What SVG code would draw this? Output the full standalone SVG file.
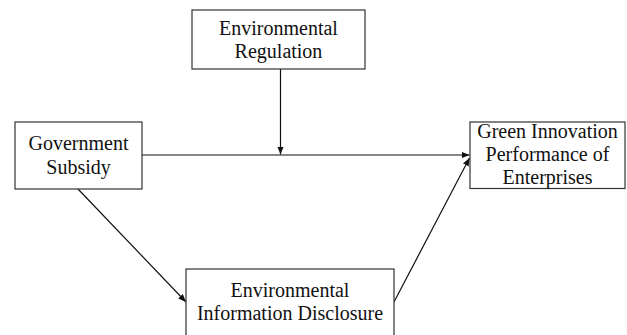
<svg xmlns="http://www.w3.org/2000/svg" width="627" height="335" viewBox="0 0 627 335">
<style>
.box{fill:#fff;stroke:#333;stroke-width:1.2}
.t{font-family:"Liberation Serif","Times New Roman",serif;font-size:20px;fill:#111;text-anchor:middle}
.c{stroke:#111;stroke-width:1.2;fill:none;marker-end:url(#ah)}
</style>
<defs>
<marker id="ah" viewBox="0 0 10 10" refX="10" refY="5" markerWidth="8" markerHeight="8" markerUnits="userSpaceOnUse" orient="auto">
<path d="M0,1 L10,5 L0,9 Z" fill="#111"/>
</marker>
</defs>
<rect width="627" height="335" fill="#fff"/>
<g id="connectors">
<line class="c" x1="280.5" y1="69" x2="280.5" y2="154.5"/>
<line class="c" x1="142" y1="155" x2="469.5" y2="155"/>
<line class="c" x1="78" y1="189" x2="186" y2="302"/>
<line class="c" x1="394" y1="302" x2="469.5" y2="158"/>
</g>
<g id="env-regulation">
<rect class="box" x="192" y="10" width="173" height="59"/>
<text class="t" x="278.5" y="35">Environmental</text>
<text class="t" x="278.5" y="57.5">Regulation</text>
</g>
<g id="gov-subsidy">
<rect class="box" x="15" y="122" width="127" height="67"/>
<text class="t" x="78.5" y="150">Government</text>
<text class="t" x="78.5" y="173.5">Subsidy</text>
</g>
<g id="green-innovation">
<rect class="box" x="470" y="122" width="155" height="66.5"/>
<text class="t" x="547.5" y="137.5">Green Innovation</text>
<text class="t" x="547.5" y="161">Performance of</text>
<text class="t" x="547.5" y="183.5">Enterprises</text>
</g>
<g id="env-disclosure">
<rect class="box" x="186" y="269" width="208" height="80"/>
<text class="t" x="290" y="297">Environmental</text>
<text class="t" x="290" y="320">Information Disclosure</text>
</g>
</svg>
